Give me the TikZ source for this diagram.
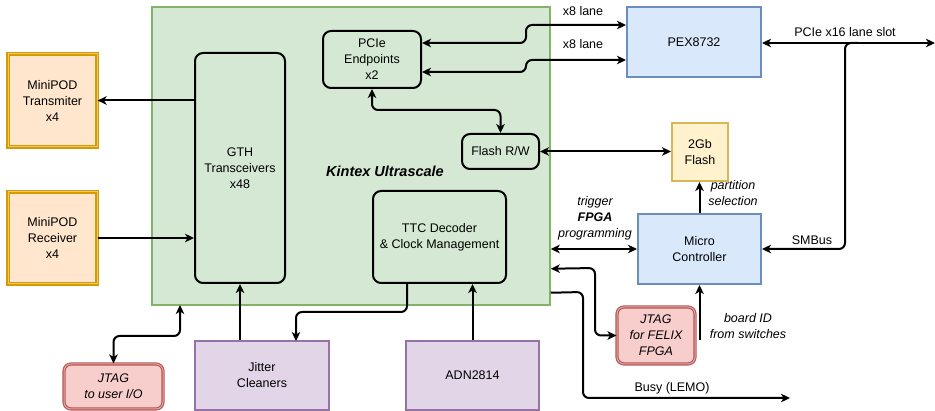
\documentclass[tikz,border=0pt]{standalone}
\usepackage{fontspec}
\setmainfont{Liberation Sans}
\usepackage{tikz}
\usetikzlibrary{arrows.meta,positioning}
\definecolor{fpgafill}{HTML}{D5E8D4}
\definecolor{fpgaline}{HTML}{82B366}
\definecolor{podfill}{HTML}{FFE6CC}
\definecolor{podline}{HTML}{D79B00}
\definecolor{chipfill}{HTML}{DAE8FC}
\definecolor{chipline}{HTML}{6C8EBF}
\definecolor{memfill}{HTML}{FFF2CC}
\definecolor{memline}{HTML}{D6B656}
\definecolor{jtagfill}{HTML}{F8CECC}
\definecolor{jtagline}{HTML}{B85450}
\definecolor{clkfill}{HTML}{E1D5E7}
\definecolor{clkline}{HTML}{9673A6}
\newcommand{\blockfont}{\fontsize{12.5}{16}\selectfont}
\tikzset{
  >={Stealth[length=9pt,width=8.5pt,inset=2.5pt]},
  fpga/.style={
    draw=fpgaline,
    fill=fpgafill,
    line width=1.5pt,
    inner sep=0pt
  },
  block/.style={
    align=center,
    inner sep=0pt,
    font=\blockfont
  },
  logic/.style={block, draw=black, line width=2pt, rounded corners=8pt},
  optics/.style={block, fill=podfill, draw=podline, line width=1.2pt,
    double=podline!55!white, double distance=1pt},
  chip/.style={block, fill=chipfill, draw=chipline, line width=2pt},
  mem/.style={block, fill=memfill, draw=memline, line width=2pt},
  jtag/.style={block, fill=jtagfill, draw=jtagline, line width=1.1pt,
    double=jtagline!50!white, double distance=1pt, rounded corners=7pt,
    font=\blockfont\itshape},
  clk/.style={block, fill=clkfill, draw=clkline, line width=2pt},
  link/.style={line width=2pt, rounded corners=6pt},
  note/.style={align=center, inner sep=0pt, font=\blockfont\itshape},
  wire/.style={inner sep=0pt, font=\blockfont}
}
\begin{document}
\begin{tikzpicture}[x=1pt,y=-1pt]
\useasboundingbox (0,0) rectangle (935,411);

\node[fpga,minimum width=398pt,minimum height=298pt] (kintex) at (351,156) {};
\node[inner sep=0pt,font=\fontsize{14.5}{17}\selectfont\bfseries\itshape] (kintexname) at (385,171) {Kintex Ultrascale};

\node[logic,minimum width=90pt,minimum height=230pt] (gth) at (240,168) {GTH\\Transceivers\\x48};
\node[logic,minimum width=98pt,minimum height=57pt] (pcie) at (372,59.5) {PCIe\\Endpoints\\x2};
\node[logic,minimum width=77pt,minimum height=35pt] (flashrw) at (500.5,151.5) {Flash R/W};
\node[logic,minimum width=133pt,minimum height=92pt] (ttc) at (439.5,237) {TTC Decoder\\\& Clock Management};

\node[optics,minimum width=89pt,minimum height=93pt] (txpod) at (52.5,100.5) {MiniPOD\\Transmiter\\x4};
\node[optics,minimum width=89pt,minimum height=92pt] (rxpod) at (52.5,238) {MiniPOD\\Receiver\\x4};

\node[chip,minimum width=134pt,minimum height=70pt] (pex) at (694,42) {PEX8732};
\node[mem,minimum width=56pt,minimum height=58pt] (flash) at (700,152) {2Gb\\Flash};
\node[chip,minimum width=123pt,minimum height=70pt] (mcu) at (699.5,249) {Micro\\Controller};

\node[jtag,minimum width=78pt,minimum height=57pt] (jtagfelix) at (656,335.5) {JTAG\\for FELIX\\FPGA};
\node[jtag,minimum width=99pt,minimum height=45pt] (jtaguser) at (113.5,386.5) {JTAG\\to user I/O};

\node[clk,minimum width=134pt,minimum height=69pt] (jitter) at (262,375.5) {Jitter\\Cleaners};
\node[clk,minimum width=133pt,minimum height=69pt] (adn) at (472.5,375.5) {ADN2814};

\coordinate (slot) at (935,43);
\coordinate (tap) at (858,43);
\coordinate (switches) at (699.5,340);
\coordinate (busy) at (790,398);

\draw[link,->] (gth.west |- txpod.east) -- (txpod.east);
\draw[link,->] (rxpod.east) -- (gth.west |- rxpod.east);
\draw[link,<->] ([yshift=16.5pt]pcie.east) -- (526,43) -- (526,25) -- ([yshift=17pt]pex.west);
\draw[link,<->] ([yshift=-12.5pt]pcie.east) -- (526,72) -- (526,60) -- ([yshift=-18pt]pex.west);
\draw[link,<->] (pex.east |- slot) -- (slot);
\draw[link,->] (tap) -- (845,43) -- (845,249) -- (mcu.east);
\draw[link,<->] (pcie.south) -- (372,110) -- (500.5,110) -- (flashrw.north);
\draw[link,<->] (flashrw.east) -- (flash.west |- flashrw.east);
\draw[link,->] (mcu.north) -- (mcu.north |- flash.south);
\draw[link,<->] (mcu.west) -- (kintex.east |- mcu.west);
\draw[link,<->] ([yshift=37pt]kintex.south east) -- (595,268) -- (595,335.5) -- (jtagfelix.west);
\draw[link,->] ([yshift=13pt]kintex.south east) -- (583,292) -- (583,398) -- (busy);
\draw[link,->] (switches) -- (mcu.south);
\draw[link,->] ([xshift=-32.5pt]ttc.south) -- (407,312) -- (296,312) -- (296,341);
\draw[link,->] (gth.south |- jitter.north) -- (gth.south);
\draw[link,->] (adn.north) -- (adn.north |- ttc.south);
\draw[link,<->] (jtaguser.north) -- (113.5,336) -- (180,336) -- (180,305);

\node[wire] (lane1) at (583,11) {x8 lane};
\node[wire] (lane2) at (583,44) {x8 lane};
\node[wire] (slotname) at (845,32) {PCIe x16 lane slot};
\node[wire] (smbus) at (812,240) {SMBus};
\node[wire] (busyname) at (672,388) {Busy (LEMO)};
\node[note] (partition) at (733,193) {partition\\selection};
\node[note] (trigger) at (595,218) {trigger\\\textbf{FPGA}\\programming};
\node[note] (boardid) at (748,326) {board ID\\from switches};
\end{tikzpicture}
\end{document}
